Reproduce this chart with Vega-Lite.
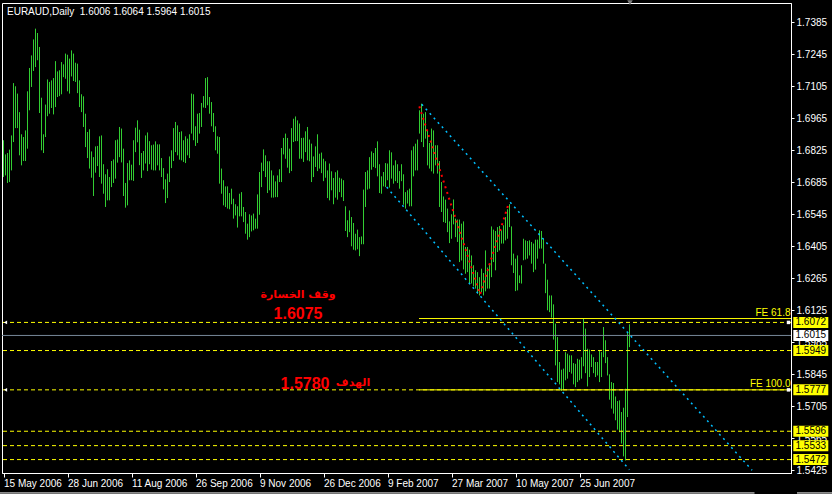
{
  "$schema": "https://vega.github.io/schema/vega-lite/v6.json",
  "width": 789,
  "height": 470,
  "autosize": "none",
  "padding": {"left": 2, "top": 3, "right": 41, "bottom": 21},
  "background": "#000000",
  "config": {
    "view": {"stroke": "#FFFFFF", "strokeWidth": 1},
    "text": {"font": "Liberation Sans"},
    "axis": {"labelOverlap": false}
  },
  "resolve": {"axis": {"x": "independent", "y": "independent"}},
  "datasets": {
    "bars": [
      {"i":0,"h":1.6869,"l":1.6708},{"i":1,"h":1.6807,"l":1.6715},{"i":2,"h":1.6813,"l":1.6682},{"i":3,"h":1.6828,"l":1.6686},{"i":4,"h":1.6890,"l":1.6737},
      {"i":5,"h":1.7119,"l":1.6861},{"i":6,"h":1.7105,"l":1.6922},{"i":7,"h":1.7073,"l":1.6922},{"i":8,"h":1.6992,"l":1.6803},{"i":9,"h":1.6895,"l":1.6759},
      {"i":10,"h":1.6883,"l":1.6778},{"i":11,"h":1.6912,"l":1.6778},{"i":12,"h":1.7083,"l":1.6832},{"i":13,"h":1.7185,"l":1.7000},{"i":14,"h":1.7240,"l":1.7102},
      {"i":15,"h":1.7310,"l":1.7172},{"i":16,"h":1.7357,"l":1.7189},{"i":17,"h":1.7338,"l":1.7219},{"i":18,"h":1.7277,"l":1.6988},{"i":19,"h":1.7055,"l":1.6825},
      {"i":20,"h":1.6895,"l":1.6813},{"i":21,"h":1.7025,"l":1.6883},{"i":22,"h":1.7135,"l":1.6974},{"i":23,"h":1.7124,"l":1.6985},{"i":24,"h":1.7131,"l":1.7010},
      {"i":25,"h":1.7141,"l":1.6982},{"i":26,"h":1.7215,"l":1.7014},{"i":27,"h":1.7170,"l":1.7058},{"i":28,"h":1.7175,"l":1.7062},{"i":29,"h":1.7211,"l":1.7070},
      {"i":30,"h":1.7201,"l":1.7145},{"i":31,"h":1.7248,"l":1.7138},{"i":32,"h":1.7243,"l":1.7083},{"i":33,"h":1.7226,"l":1.7073},{"i":34,"h":1.7262,"l":1.7148},
      {"i":35,"h":1.7248,"l":1.7128},{"i":36,"h":1.7208,"l":1.7124},{"i":37,"h":1.7204,"l":1.7075},{"i":38,"h":1.7131,"l":1.7014},{"i":39,"h":1.7070,"l":1.6992},
      {"i":40,"h":1.7061,"l":1.6927},{"i":41,"h":1.6985,"l":1.6839},{"i":42,"h":1.6905,"l":1.6791},{"i":43,"h":1.6917,"l":1.6745},{"i":44,"h":1.6820,"l":1.6705},
      {"i":45,"h":1.6795,"l":1.6625},{"i":46,"h":1.6842,"l":1.6727},{"i":47,"h":1.6844,"l":1.6756},{"i":48,"h":1.6886,"l":1.6708},{"i":49,"h":1.6890,"l":1.6679},
      {"i":50,"h":1.6764,"l":1.6635},{"i":51,"h":1.6720,"l":1.6577},{"i":52,"h":1.6742,"l":1.6606},{"i":53,"h":1.6708,"l":1.6606},{"i":54,"h":1.6778,"l":1.6664},
      {"i":55,"h":1.6785,"l":1.6682},{"i":56,"h":1.6869,"l":1.6701},{"i":57,"h":1.6872,"l":1.6771},{"i":58,"h":1.6927,"l":1.6795},{"i":59,"h":1.6920,"l":1.6772},
      {"i":60,"h":1.6832,"l":1.6625},{"i":61,"h":1.6682,"l":1.6574},{"i":62,"h":1.6769,"l":1.6584},{"i":63,"h":1.6781,"l":1.6694},{"i":64,"h":1.6762,"l":1.6694},
      {"i":65,"h":1.6869,"l":1.6691},{"i":66,"h":1.6924,"l":1.6817},{"i":67,"h":1.6956,"l":1.6860},{"i":68,"h":1.6915,"l":1.6760},{"i":69,"h":1.6813,"l":1.6704},
      {"i":70,"h":1.6822,"l":1.6737},{"i":71,"h":1.6890,"l":1.6767},{"i":72,"h":1.6903,"l":1.6734},{"i":73,"h":1.6865,"l":1.6764},{"i":74,"h":1.6847,"l":1.6740},
      {"i":75,"h":1.6850,"l":1.6737},{"i":76,"h":1.6864,"l":1.6737},{"i":77,"h":1.6851,"l":1.6759},{"i":78,"h":1.6851,"l":1.6737},{"i":79,"h":1.6791,"l":1.6708},
      {"i":80,"h":1.6747,"l":1.6654},{"i":81,"h":1.6698,"l":1.6594},{"i":82,"h":1.6723,"l":1.6616},{"i":83,"h":1.6798,"l":1.6686},{"i":84,"h":1.6825,"l":1.6747},
      {"i":85,"h":1.6922,"l":1.6778},{"i":86,"h":1.6949,"l":1.6817},{"i":87,"h":1.6934,"l":1.6803},{"i":88,"h":1.6905,"l":1.6784},{"i":89,"h":1.6908,"l":1.6781},
      {"i":90,"h":1.6869,"l":1.6774},{"i":91,"h":1.6886,"l":1.6769},{"i":92,"h":1.6876,"l":1.6803},{"i":93,"h":1.6895,"l":1.6791},{"i":94,"h":1.7073,"l":1.6898},
      {"i":95,"h":1.7070,"l":1.6869},{"i":96,"h":1.6930,"l":1.6844},{"i":97,"h":1.6985,"l":1.6857},{"i":98,"h":1.6988,"l":1.6898},{"i":99,"h":1.7032,"l":1.6927},
      {"i":100,"h":1.7062,"l":1.7012},{"i":101,"h":1.7141,"l":1.7010},{"i":102,"h":1.7145,"l":1.7022},{"i":103,"h":1.7058,"l":1.6985},{"i":104,"h":1.7036,"l":1.6930},
      {"i":105,"h":1.6988,"l":1.6905},{"i":106,"h":1.6930,"l":1.6825},{"i":107,"h":1.6886,"l":1.6810},{"i":108,"h":1.6883,"l":1.6679},{"i":109,"h":1.6745,"l":1.6635},
      {"i":110,"h":1.6694,"l":1.6584},{"i":111,"h":1.6667,"l":1.6577},{"i":112,"h":1.6667,"l":1.6570},{"i":113,"h":1.6638,"l":1.6567},{"i":114,"h":1.6657,"l":1.6589},
      {"i":115,"h":1.6613,"l":1.6526},{"i":116,"h":1.6589,"l":1.6540},{"i":117,"h":1.6580,"l":1.6487},{"i":118,"h":1.6635,"l":1.6536},{"i":119,"h":1.6642,"l":1.6536},
      {"i":120,"h":1.6577,"l":1.6511},{"i":121,"h":1.6555,"l":1.6460},{"i":122,"h":1.6504,"l":1.6434},{"i":123,"h":1.6545,"l":1.6445},{"i":124,"h":1.6540,"l":1.6470},
      {"i":125,"h":1.6548,"l":1.6475},{"i":126,"h":1.6526,"l":1.6482},{"i":127,"h":1.6632,"l":1.6482},{"i":128,"h":1.6730,"l":1.6543},{"i":129,"h":1.6771,"l":1.6664},
      {"i":130,"h":1.6829,"l":1.6734},{"i":131,"h":1.6803,"l":1.6708},{"i":132,"h":1.6777,"l":1.6638},{"i":133,"h":1.6777,"l":1.6650},{"i":134,"h":1.6737,"l":1.6618},
      {"i":135,"h":1.6715,"l":1.6618},{"i":136,"h":1.6689,"l":1.6620},{"i":137,"h":1.6715,"l":1.6620},{"i":138,"h":1.6742,"l":1.6686},{"i":139,"h":1.6835,"l":1.6686},
      {"i":140,"h":1.6879,"l":1.6807},{"i":141,"h":1.6898,"l":1.6788},{"i":142,"h":1.6879,"l":1.6749},{"i":143,"h":1.6832,"l":1.6725},{"i":144,"h":1.6922,"l":1.6734},
      {"i":145,"h":1.6963,"l":1.6861},{"i":146,"h":1.6973,"l":1.6865},{"i":147,"h":1.6956,"l":1.6865},{"i":148,"h":1.6942,"l":1.6788},{"i":149,"h":1.6879,"l":1.6788},
      {"i":150,"h":1.6880,"l":1.6774},{"i":151,"h":1.6908,"l":1.6817},{"i":152,"h":1.6927,"l":1.6781},{"i":153,"h":1.6872,"l":1.6777},{"i":154,"h":1.6854,"l":1.6686},
      {"i":155,"h":1.6798,"l":1.6708},{"i":156,"h":1.6842,"l":1.6752},{"i":157,"h":1.6895,"l":1.6734},{"i":158,"h":1.6810,"l":1.6745},{"i":159,"h":1.6815,"l":1.6725},
      {"i":160,"h":1.6788,"l":1.6690},{"i":161,"h":1.6777,"l":1.6705},{"i":162,"h":1.6737,"l":1.6616},{"i":163,"h":1.6767,"l":1.6606},{"i":164,"h":1.6733,"l":1.6650},
      {"i":165,"h":1.6704,"l":1.6589},{"i":166,"h":1.6729,"l":1.6618},{"i":167,"h":1.6737,"l":1.6609},{"i":168,"h":1.6705,"l":1.6642},{"i":169,"h":1.6701,"l":1.6620},
      {"i":170,"h":1.6694,"l":1.6603},{"i":171,"h":1.6580,"l":1.6472},{"i":172,"h":1.6519,"l":1.6445},{"i":173,"h":1.6562,"l":1.6467},{"i":174,"h":1.6533,"l":1.6405},
      {"i":175,"h":1.6507,"l":1.6390},{"i":176,"h":1.6460,"l":1.6387},{"i":177,"h":1.6478,"l":1.6392},{"i":178,"h":1.6445,"l":1.6362},{"i":179,"h":1.6448,"l":1.6414},
      {"i":180,"h":1.6653,"l":1.6414},{"i":181,"h":1.6730,"l":1.6577},{"i":182,"h":1.6737,"l":1.6653},{"i":183,"h":1.6795,"l":1.6657},{"i":184,"h":1.6820,"l":1.6740},
      {"i":185,"h":1.6813,"l":1.6752},{"i":186,"h":1.6835,"l":1.6747},{"i":187,"h":1.6864,"l":1.6711},{"i":188,"h":1.6764,"l":1.6638},{"i":189,"h":1.6711,"l":1.6635},
      {"i":190,"h":1.6730,"l":1.6667},{"i":191,"h":1.6769,"l":1.6664},{"i":192,"h":1.6767,"l":1.6694},{"i":193,"h":1.6825,"l":1.6662},{"i":194,"h":1.6816,"l":1.6701},
      {"i":195,"h":1.6759,"l":1.6679},{"i":196,"h":1.6781,"l":1.6690},{"i":197,"h":1.6764,"l":1.6682},{"i":198,"h":1.6734,"l":1.6657},{"i":199,"h":1.6764,"l":1.6690},
      {"i":200,"h":1.6720,"l":1.6587},{"i":201,"h":1.6642,"l":1.6570},{"i":202,"h":1.6650,"l":1.6592},{"i":203,"h":1.6657,"l":1.6580},{"i":204,"h":1.6825,"l":1.6580},
      {"i":205,"h":1.6842,"l":1.6711},{"i":206,"h":1.6854,"l":1.6737},{"i":207,"h":1.6872,"l":1.6737},{"i":208,"h":1.7000,"l":1.6898},{"i":209,"h":1.7029,"l":1.6861},
      {"i":210,"h":1.6985,"l":1.6839},{"i":211,"h":1.6992,"l":1.6876},{"i":212,"h":1.6912,"l":1.6759},{"i":213,"h":1.6857,"l":1.6745},{"i":214,"h":1.6920,"l":1.6733},
      {"i":215,"h":1.6912,"l":1.6723},{"i":216,"h":1.6847,"l":1.6759},{"i":217,"h":1.6847,"l":1.6723},{"i":218,"h":1.6778,"l":1.6577},{"i":219,"h":1.6686,"l":1.6555},
      {"i":220,"h":1.6623,"l":1.6511},{"i":221,"h":1.6609,"l":1.6507},{"i":222,"h":1.6570,"l":1.6467},{"i":223,"h":1.6514,"l":1.6419},{"i":224,"h":1.6545,"l":1.6438},
      {"i":225,"h":1.6610,"l":1.6501},{"i":226,"h":1.6526,"l":1.6445},{"i":227,"h":1.6522,"l":1.6424},{"i":228,"h":1.6522,"l":1.6336},{"i":229,"h":1.6504,"l":1.6343},
      {"i":230,"h":1.6514,"l":1.6304},{"i":231,"h":1.6402,"l":1.6285},{"i":232,"h":1.6402,"l":1.6292},{"i":233,"h":1.6390,"l":1.6242},{"i":234,"h":1.6365,"l":1.6242},
      {"i":235,"h":1.6322,"l":1.6230},{"i":236,"h":1.6300,"l":1.6220},{"i":237,"h":1.6292,"l":1.6198},{"i":238,"h":1.6270,"l":1.6190},{"i":239,"h":1.6307,"l":1.6205},
      {"i":240,"h":1.6288,"l":1.6190},{"i":241,"h":1.6387,"l":1.6208},{"i":242,"h":1.6312,"l":1.6220},{"i":243,"h":1.6329,"l":1.6220},{"i":244,"h":1.6492,"l":1.6270},
      {"i":245,"h":1.6478,"l":1.6336},{"i":246,"h":1.6472,"l":1.6300},{"i":247,"h":1.6489,"l":1.6380},{"i":248,"h":1.6494,"l":1.6387},{"i":249,"h":1.6475,"l":1.6417},
      {"i":250,"h":1.6497,"l":1.6417},{"i":251,"h":1.6533,"l":1.6431},{"i":252,"h":1.6567,"l":1.6438},{"i":253,"h":1.6589,"l":1.6489},{"i":254,"h":1.6492,"l":1.6322},
      {"i":255,"h":1.6373,"l":1.6288},{"i":256,"h":1.6351,"l":1.6209},{"i":257,"h":1.6365,"l":1.6212},{"i":258,"h":1.6278,"l":1.6244},{"i":259,"h":1.6322,"l":1.6242},
      {"i":260,"h":1.6438,"l":1.6344},{"i":261,"h":1.6431,"l":1.6347},{"i":262,"h":1.6428,"l":1.6351},{"i":263,"h":1.6431,"l":1.6365},{"i":264,"h":1.6424,"l":1.6329},
      {"i":265,"h":1.6417,"l":1.6292},{"i":266,"h":1.6434,"l":1.6303},{"i":267,"h":1.6434,"l":1.6351},{"i":268,"h":1.6475,"l":1.6395},{"i":269,"h":1.6472,"l":1.6395},
      {"i":270,"h":1.6438,"l":1.6329},{"i":271,"h":1.6329,"l":1.6200},{"i":272,"h":1.6259,"l":1.6125},{"i":273,"h":1.6190,"l":1.6117},{"i":274,"h":1.6190,"l":1.6093},
      {"i":275,"h":1.6151,"l":1.5997},{"i":276,"h":1.6067,"l":1.5884},{"i":277,"h":1.6008,"l":1.5811},{"i":278,"h":1.5899,"l":1.5801},{"i":279,"h":1.5865,"l":1.5772},
      {"i":280,"h":1.5870,"l":1.5778},{"i":281,"h":1.5942,"l":1.5819},{"i":282,"h":1.5935,"l":1.5826},{"i":283,"h":1.5928,"l":1.5855},{"i":284,"h":1.5928,"l":1.5848},
      {"i":285,"h":1.5894,"l":1.5801},{"i":286,"h":1.5891,"l":1.5789},{"i":287,"h":1.5913,"l":1.5811},{"i":288,"h":1.5909,"l":1.5819},{"i":289,"h":1.5920,"l":1.5826},
      {"i":290,"h":1.6088,"l":1.5880},{"i":291,"h":1.6045,"l":1.5850},{"i":292,"h":1.5957,"l":1.5792},{"i":293,"h":1.5953,"l":1.5833},{"i":294,"h":1.5932,"l":1.5877},
      {"i":295,"h":1.5920,"l":1.5850},{"i":296,"h":1.5899,"l":1.5833},{"i":297,"h":1.5899,"l":1.5840},{"i":298,"h":1.5947,"l":1.5811},{"i":299,"h":1.5942,"l":1.5833},
      {"i":300,"h":1.6052,"l":1.5920},{"i":301,"h":1.5994,"l":1.5894},{"i":302,"h":1.5920,"l":1.5840},{"i":303,"h":1.5845,"l":1.5734},{"i":304,"h":1.5811,"l":1.5695},
      {"i":305,"h":1.5807,"l":1.5673},{"i":306,"h":1.5748,"l":1.5644},{"i":307,"h":1.5728,"l":1.5603},{"i":308,"h":1.5731,"l":1.5592},{"i":309,"h":1.5680,"l":1.5542},
      {"i":310,"h":1.5699,"l":1.5486},{"i":311,"h":1.5782,"l":1.5468},{"i":312,"h":1.6030,"l":1.5658},{"i":313,"h":1.6064,"l":1.5964}
    ],
    "levels": [{"p":1.6072},{"p":1.5949},{"p":1.5777},{"p":1.5596},{"p":1.5533},{"p":1.5472}],
    "fe": [{"p":1.6089,"t":"FE 61.8"},{"p":1.5777,"t":"FE 100.0"}],
    "channel": [
      {"ln":"upper","i":209.1,"p":1.7026},{"ln":"upper","i":374.3,"p":1.5425},
      {"ln":"lower","i":191.6,"p":1.6664},{"ln":"lower","i":312.9,"p":1.5428}
    ],
    "zigzag": [{"i":207.9,"p":1.7017},{"i":238.3,"p":1.6195},{"i":252.4,"p":1.6587}],
    "markers": [{"p":1.6072},{"p":1.5777}],
    "one": [{}]
  },
  "layer": [
    {
      "data": {"name": "bars"},
      "mark": {"type": "rule", "color": "#32CD32", "strokeWidth": 1},
      "encoding": {
        "x": {
          "field": "i", "type": "quantitative",
          "scale": {"domain": [-0.75, 393.75], "nice": false, "zero": false},
          "axis": {
            "title": null, "grid": false,
            "values": [0, 32, 64, 96, 128, 160, 192, 224, 256, 288],
            "labelExpr": "['15 May 2006','28 Jun 2006','11 Aug 2006','26 Sep 2006','9 Nov 2006','26 Dec 2006','9 Feb 2007','27 Mar 2007','10 May 2007','25 Jun 2007'][round(datum.value/32)]",
            "labelAlign": "left", "labelBaseline": "top", "labelPadding": 1,
            "labelFont": "Liberation Sans", "labelFontSize": 10, "labelColor": "#FFFFFF",
            "labelOverlap": false, "labelFlush": false, "labelBound": false,
            "tickSize": 4, "tickColor": "#FFFFFF", "domainColor": "#FFFFFF"
          }
        },
        "y": {
          "field": "h", "type": "quantitative",
          "scale": {"domain": [1.54133, 1.74693], "nice": false, "zero": false},
          "axis": {
            "title": null, "grid": false, "orient": "right",
            "values": [1.5425, 1.5565, 1.5705, 1.5845, 1.5985, 1.6125, 1.6265, 1.6405, 1.6545, 1.6685, 1.6825, 1.6965, 1.7105, 1.7245, 1.7385],
            "format": ".4f",
            "labelFont": "Liberation Sans", "labelFontSize": 10, "labelColor": "#FFFFFF",
            "labelOverlap": false, "labelFlush": false, "labelBound": false, "labelSeparation": 0,
            "labelPadding": 2, "tickSize": 3, "tickColor": "#FFFFFF", "domainColor": "#FFFFFF"
          }
        },
        "y2": {"field": "l"}
      }
    },
    {
      "data": {"name": "levels"},
      "mark": {"type": "rule", "color": "#FFFF00", "strokeWidth": 1, "strokeDash": [4, 3]},
      "encoding": {"y": {"field": "p", "type": "quantitative", "axis": null}}
    },
    {
      "data": {"name": "one"},
      "mark": {"type": "rule", "color": "#778899", "strokeWidth": 1},
      "encoding": {"y": {"datum": 1.6015, "type": "quantitative", "axis": null}}
    },
    {
      "data": {"name": "fe"},
      "mark": {"type": "rule", "color": "#FFFF00", "strokeWidth": 1},
      "encoding": {
        "x": {"datum": 207.75, "type": "quantitative", "axis": null},
        "x2": {"datum": 393.75},
        "y": {"field": "p", "type": "quantitative", "axis": null}
      }
    },
    {
      "data": {"name": "fe"},
      "mark": {"type": "text", "color": "#FFFF00", "align": "right", "baseline": "alphabetic", "dy": -2.5, "fontSize": 10},
      "encoding": {
        "x": {"datum": 393.5, "type": "quantitative", "axis": null},
        "y": {"field": "p", "type": "quantitative", "axis": null},
        "text": {"field": "t"}
      }
    },
    {
      "data": {"name": "channel"},
      "mark": {"type": "line", "color": "#00BFFF", "strokeWidth": 1.5, "strokeDash": [2, 4]},
      "encoding": {
        "x": {"field": "i", "type": "quantitative", "axis": null},
        "y": {"field": "p", "type": "quantitative", "axis": null},
        "detail": {"field": "ln"}
      }
    },
    {
      "data": {"name": "zigzag"},
      "mark": {"type": "line", "color": "#FF0000", "strokeWidth": 2, "strokeDash": [2, 4]},
      "encoding": {
        "x": {"field": "i", "type": "quantitative", "axis": null},
        "y": {"field": "p", "type": "quantitative", "axis": null}
      }
    },
    {
      "data": {"name": "markers"},
      "mark": {"type": "point", "shape": "triangle-left", "filled": true, "color": "#FFFFFF", "size": 14, "opacity": 1},
      "encoding": {
        "x": {"datum": 1, "type": "quantitative", "axis": null},
        "y": {"field": "p", "type": "quantitative", "axis": null}
      }
    },
    {
      "data": {"name": "markers"},
      "mark": {"type": "point", "shape": "square", "filled": true, "color": "#FFFFFF", "size": 12, "opacity": 1},
      "encoding": {
        "x": {"datum": 392.5, "type": "quantitative", "axis": null},
        "y": {"field": "p", "type": "quantitative", "axis": null}
      }
    },
    {
      "data": {"name": "levels"},
      "mark": {"type": "rule", "color": "#FFFF00", "strokeWidth": 11, "strokeCap": "butt"},
      "encoding": {
        "x": {"datum": 394.9, "type": "quantitative", "axis": null},
        "x2": {"datum": 412.4},
        "y": {"field": "p", "type": "quantitative", "axis": null}
      }
    },
    {
      "data": {"name": "levels"},
      "mark": {"type": "text", "color": "#000000", "align": "left", "baseline": "middle", "fontSize": 10},
      "encoding": {
        "x": {"datum": 396, "type": "quantitative", "axis": null},
        "y": {"field": "p", "type": "quantitative", "axis": null},
        "text": {"field": "p", "type": "quantitative", "format": ".4f"}
      }
    },
    {
      "data": {"name": "one"},
      "mark": {"type": "rule", "color": "#FFFFFF", "strokeWidth": 11, "strokeCap": "butt"},
      "encoding": {
        "x": {"datum": 394.9, "type": "quantitative", "axis": null},
        "x2": {"datum": 412.4},
        "y": {"datum": 1.6015, "type": "quantitative", "axis": null}
      }
    },
    {
      "data": {"name": "one"},
      "mark": {"type": "text", "color": "#000000", "align": "left", "baseline": "middle", "fontSize": 10},
      "encoding": {
        "x": {"datum": 396, "type": "quantitative", "axis": null},
        "y": {"datum": 1.6015, "type": "quantitative", "axis": null},
        "text": {"value": "1.6015"}
      }
    },
    {
      "data": {"name": "one"},
      "mark": {"type": "point", "shape": "triangle-down", "filled": true, "color": "#808080", "size": 30, "opacity": 1},
      "encoding": {
        "x": {"datum": 313.25, "type": "quantitative", "axis": null},
        "y": {"datum": 1.7471, "type": "quantitative", "axis": null}
      }
    },
    {
      "data": {"name": "one"},
      "mark": {"type": "text", "color": "#FFFFFF", "align": "left", "baseline": "middle", "fontSize": 10},
      "encoding": {
        "x": {"datum": 1.75, "type": "quantitative", "axis": null},
        "y": {"datum": 1.7431, "type": "quantitative", "axis": null},
        "text": {"value": "EURAUD,Daily\u00a0 1.6006 1.6064 1.5964 1.6015"}
      }
    },
    {
      "data": {"name": "one"},
      "mark": {"type": "text", "color": "#FF0000", "align": "center", "baseline": "middle", "font": "DejaVu Sans", "fontSize": 11, "fontWeight": "bold"},
      "encoding": {
        "x": {"datum": 147.25, "type": "quantitative", "axis": null},
        "y": {"datum": 1.6190, "type": "quantitative", "axis": null},
        "text": {"value": "وقف الخسارة"}
      }
    },
    {
      "data": {"name": "one"},
      "mark": {"type": "text", "color": "#FF0000", "align": "center", "baseline": "middle", "fontSize": 16, "fontWeight": "bold"},
      "encoding": {
        "x": {"datum": 147.25, "type": "quantitative", "axis": null},
        "y": {"datum": 1.6109, "type": "quantitative", "axis": null},
        "text": {"value": "1.6075"}
      }
    },
    {
      "data": {"name": "one"},
      "mark": {"type": "text", "color": "#FF0000", "align": "center", "baseline": "middle", "fontSize": 16, "fontWeight": "bold"},
      "encoding": {
        "x": {"datum": 150.75, "type": "quantitative", "axis": null},
        "y": {"datum": 1.5803, "type": "quantitative", "axis": null},
        "text": {"value": "1.5780"}
      }
    },
    {
      "data": {"name": "one"},
      "mark": {"type": "text", "color": "#FF0000", "align": "center", "baseline": "middle", "font": "DejaVu Sans", "fontSize": 11, "fontWeight": "bold"},
      "encoding": {
        "x": {"datum": 174.75, "type": "quantitative", "axis": null},
        "y": {"datum": 1.5805, "type": "quantitative", "axis": null},
        "text": {"value": "الهدف"}
      }
    },
    {
      "data": {"name": "one"},
      "mark": {"type": "rule", "color": "#FFFFFF", "strokeWidth": 1},
      "encoding": {
        "x": {"datum": -1.75, "type": "quantitative", "axis": null},
        "x2": {"datum": 375.5},
        "y": {"datum": 1.5326, "type": "quantitative", "axis": null}
      }
    },
    {
      "data": {"name": "one"},
      "mark": {"type": "rule", "color": "#FFFFFF", "strokeWidth": 1},
      "encoding": {
        "x": {"datum": 396.75, "type": "quantitative", "axis": null},
        "x2": {"datum": 414.5},
        "y": {"datum": 1.5326, "type": "quantitative", "axis": null}
      }
    }
  ]
}
